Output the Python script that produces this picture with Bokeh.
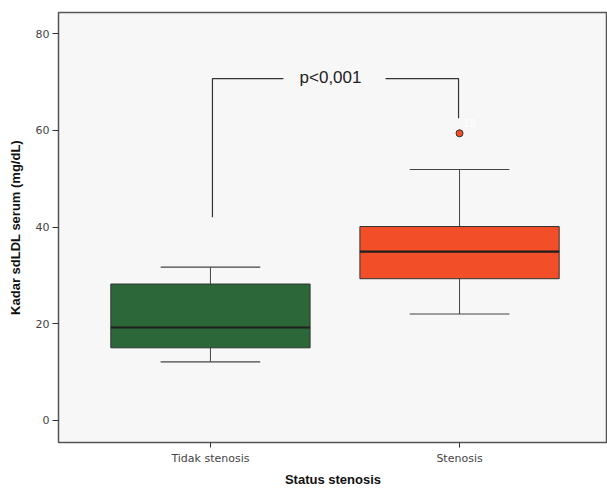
from bokeh.plotting import figure
from bokeh.models import ColumnDataSource, FixedTicker, Range1d, Label
from bokeh.embed import file_html
from bokeh.resources import INLINE
from bokeh.core.properties import value

# ---- data ----
categories = ["Tidak stenosis", "Stenosis"]
q1 = [15.0, 29.3]
median = [19.2, 34.9]
q3 = [28.2, 40.1]
whisker_low = [12.1, 22.0]
whisker_high = [31.7, 51.9]
outlier_cat = ["Stenosis"]
outlier_val = [59.4]
outlier_label = ["18"]
y_ticks = [0, 20, 40, 60, 80]
colors = ["#2b6739", "#f24e28"]
p_text = "p<0,001"

xs = [i + 1 for i in range(len(categories))]
box_w = 0.8
cap_w = 0.4

src = ColumnDataSource(dict(
    x=xs, q1=q1, med=median, q3=q3, lo=whisker_low, hi=whisker_high, color=colors,
    cap_l=[x - cap_w / 2 for x in xs], cap_r=[x + cap_w / 2 for x in xs],
    box_l=[x - box_w / 2 for x in xs], box_r=[x + box_w / 2 for x in xs],
))

p = figure(width=607, height=489, output_backend="svg", toolbar_location=None,
           x_range=Range1d(0.39, 2.594), y_range=Range1d(-4.6, 84.4),
           min_border_left=58, min_border_right=0, min_border_top=12, min_border_bottom=47)

p.background_fill_color = "#f7f7f7"
p.border_fill_color = "white"
p.outline_line_color = "#555555"
p.outline_line_width = 1.5
p.grid.visible = False

# whisker stems
p.segment(x0="x", y0="lo", x1="x", y1="q1", source=src, line_color="#444444", line_width=1)
p.segment(x0="x", y0="q3", x1="x", y1="hi", source=src, line_color="#444444", line_width=1)
# caps
p.segment(x0="cap_l", y0="lo", x1="cap_r", y1="lo", source=src, line_color="#444444", line_width=1.2)
p.segment(x0="cap_l", y0="hi", x1="cap_r", y1="hi", source=src, line_color="#444444", line_width=1.2)
# boxes
p.vbar(x="x", width=box_w, bottom="q1", top="q3", source=src, fill_color="color",
       line_color="#333333", line_width=1)
# medians
p.segment(x0="box_l", y0="med", x1="box_r", y1="med", source=src, line_color="#1e1e1e", line_width=2.2)

# outlier
ox = [xs[categories.index(c)] for c in outlier_cat]
osrc = ColumnDataSource(dict(x=ox, y=outlier_val, lab=outlier_label,
                             lx=[x + 0.04 for x in ox], ly=[v + 2.2 for v in outlier_val]))
p.scatter(x="x", y="y", source=osrc, size=7, fill_color="#f24e28", line_color="#333333", line_width=1)
p.text(x="lx", y="ly", text="lab", source=osrc, text_color="white", text_font_size="10px",
       text_font=value("DejaVu Sans"), text_baseline="middle", text_align="center")

# significance bracket
y_top = 70.7
p.line(x=[1.008, 1.008, 1.293], y=[42.0, y_top, y_top], line_color="#333333", line_width=1.2)
p.line(x=[1.703, 1.996, 1.996], y=[y_top, y_top, 62.5], line_color="#333333", line_width=1.2)
p.add_layout(Label(x=1.482, y=y_top + 0.3, text=p_text, text_align="center", text_baseline="middle",
                   text_font="Liberation Sans", text_font_size="17px", text_color="#222222"))

# axes
p.xaxis.ticker = FixedTicker(ticks=xs)
p.xaxis.major_label_overrides = {x: c for x, c in zip(xs, categories)}
p.yaxis.ticker = FixedTicker(ticks=y_ticks)
for ax in (p.xaxis, p.yaxis):
    ax.axis_line_color = None
    ax.minor_tick_line_color = None
    ax.major_tick_line_color = "#333333"
    ax.major_tick_in = 0
    ax.major_label_text_font = "DejaVu Sans"
    ax.major_label_text_font_size = "11px"
    ax.major_label_text_color = "#444444"
    ax.axis_label_text_font = "Liberation Sans"
    ax.axis_label_text_font_style = "bold"
    ax.axis_label_text_font_size = "13px"
    ax.axis_label_text_color = "#111111"
p.xaxis.major_tick_out = 5
p.yaxis.major_tick_out = 6
p.xaxis.major_label_standoff = 4
p.yaxis.major_label_standoff = 3
p.xaxis.axis_label = "Status stenosis"
p.yaxis.axis_label = "Kadar sdLDL serum (mg/dL)"
p.xaxis.axis_label_standoff = 4
p.yaxis.axis_label_standoff = 10

open("out.html", "w").write(file_html(p, INLINE))
